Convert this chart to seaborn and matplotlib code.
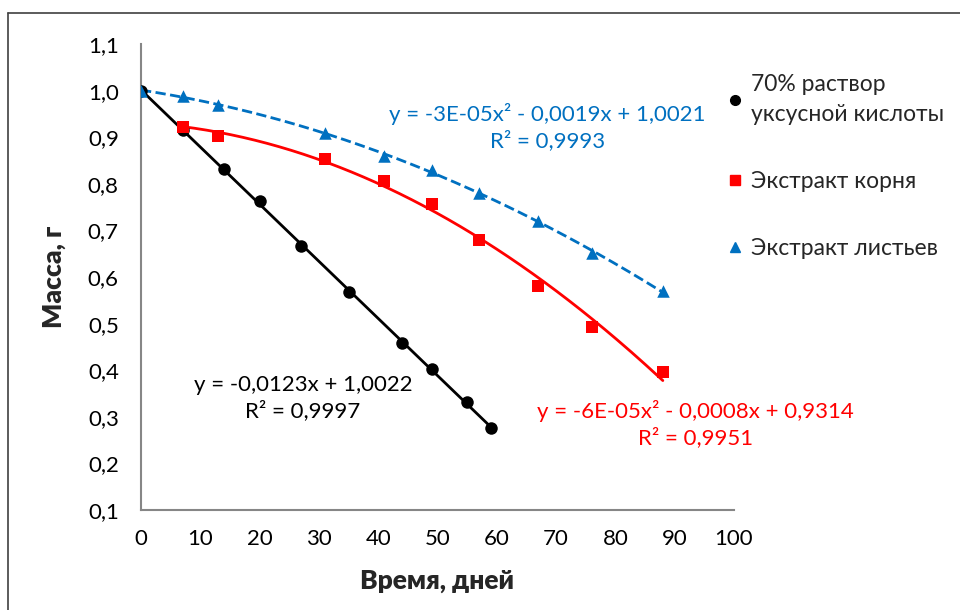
"""
Масса образцов во времени: три серии с линиями тренда (Excel-style)
"""

import numpy as np
import pandas as pd
import matplotlib
matplotlib.use('Agg')
import matplotlib.pyplot as plt
from matplotlib.lines import Line2D
import seaborn as sns

# Data
acid_days = [0, 7, 14, 20, 27, 35, 44, 49, 55, 59]
acid_mass = [1.000, 0.915, 0.832, 0.763, 0.667, 0.568, 0.458, 0.403, 0.332, 0.276]

root_days = [7, 13, 31, 41, 49, 57, 67, 76, 88]
root_mass = [0.922, 0.903, 0.853, 0.806, 0.757, 0.679, 0.581, 0.493, 0.396]

leaf_days = [0, 7, 13, 31, 41, 49, 57, 67, 76, 88]
leaf_mass = [1.000, 0.988, 0.969, 0.909, 0.860, 0.830, 0.780, 0.720, 0.651, 0.570]

labels = ['70% раствор\nуксусной кислоты', 'Экстракт корня', 'Экстракт листьев']
colors = ['#000000', '#FF0000', '#0070C0']
eq_texts = ['y = -0,0123x + 1,0022\nR² = 0,9997',
            'y = -6E-05x² - 0,0008x + 0,9314\nR² = 0,9951',
            'y = -3E-05x² - 0,0019x + 1,0021\nR² = 0,9993']

x_ticks = [0, 10, 20, 30, 40, 50, 60, 70, 80, 90, 100]
y_ticks = [0.1, 0.2, 0.3, 0.4, 0.5, 0.6, 0.7, 0.8, 0.9, 1.0, 1.1]

sns.set_style('white')
plt.rcParams['font.family'] = ['Lato', 'DejaVu Sans']

fig = plt.figure(figsize=(9.6, 6.1), dpi=100)
ax = fig.add_axes([141 / 960, 1 - 510 / 610, 593 / 960, 466 / 610])

series = [
    (acid_days, acid_mass, 1, 'o', '-', 9),
    (root_days, root_mass, 2, 's', '-', 8),
    (leaf_days, leaf_mass, 2, '^', '--', 9),
]

for (days, mass, deg, marker, ls, ms), color in zip(series, colors):
    df = pd.DataFrame({'x': days, 'y': mass})
    # trendline (least squares fit, as in Excel)
    coef = np.polyfit(df['x'], df['y'], deg)
    xs = np.linspace(df['x'].min(), df['x'].max(), 200)
    trend = pd.DataFrame({'x': xs, 'y': np.polyval(coef, xs)})
    sns.lineplot(data=trend, x='x', y='y', ax=ax, color=color,
                 linewidth=2.0, linestyle=ls, zorder=2)
    sns.scatterplot(data=df, x='x', y='y', ax=ax, color=color, marker=marker,
                    s=ms ** 2, edgecolor=color, linewidth=0, zorder=3)

# equations of the trendlines
eq_pos = [(27.3, 0.340), (93.5, 0.285), (68.5, 0.922)]
for (tx, ty), txt, color in zip(eq_pos, eq_texts, colors):
    ax.text(tx, ty, txt, color=color, fontsize=16, ha='center', va='center',
            multialignment='center', linespacing=1.3)

ax.set_xlim(0, 100)
ax.set_ylim(0.1, 1.1)
ax.set_xticks(x_ticks)
ax.set_yticks(y_ticks)
ax.set_xticklabels([str(t) for t in x_ticks])
ax.set_yticklabels([f'{t:.1f}'.replace('.', ',') for t in y_ticks])
ax.tick_params(axis='both', labelsize=16, colors='#868686', labelcolor='black',
               length=5, width=1.2, direction='out')
ax.tick_params(axis='y', pad=11)
ax.tick_params(axis='x', pad=9)

for side in ['top', 'right']:
    ax.spines[side].set_visible(False)
for side in ['left', 'bottom']:
    ax.spines[side].set_color('#868686')
    ax.spines[side].set_linewidth(1.5)

ax.set_xlabel('Время, дней', fontsize=19, fontweight='heavy', labelpad=14)
ax.set_ylabel('Масса, г', fontsize=19, fontweight='heavy', labelpad=16)

# legend on the right
handles = [
    Line2D([], [], marker='o', color=colors[0], linestyle='none', markersize=7),
    Line2D([], [], marker='s', color=colors[1], linestyle='none', markersize=7),
    Line2D([], [], marker='^', color=colors[2], linestyle='none', markersize=7),
]
leg = fig.legend(handles, labels, loc='upper left',
                 bbox_to_anchor=(703 / 960, 1 - 53 / 610),
                 frameon=False, fontsize=16.5, handletextpad=0.2, handlelength=1.0,
                 labelspacing=2.0)
for t in leg.get_texts():
    t.set_linespacing(1.55)

# outer chart frame (left and top edges visible)
fig.add_artist(Line2D([8 / 960, 8 / 960], [0, 1 - 13 / 610], transform=fig.transFigure,
                      color='#404040', linewidth=1.2))
fig.add_artist(Line2D([8 / 960, 1], [1 - 13 / 610, 1 - 13 / 610], transform=fig.transFigure,
                      color='#404040', linewidth=1.2))

fig.savefig('out.png', dpi=100)
